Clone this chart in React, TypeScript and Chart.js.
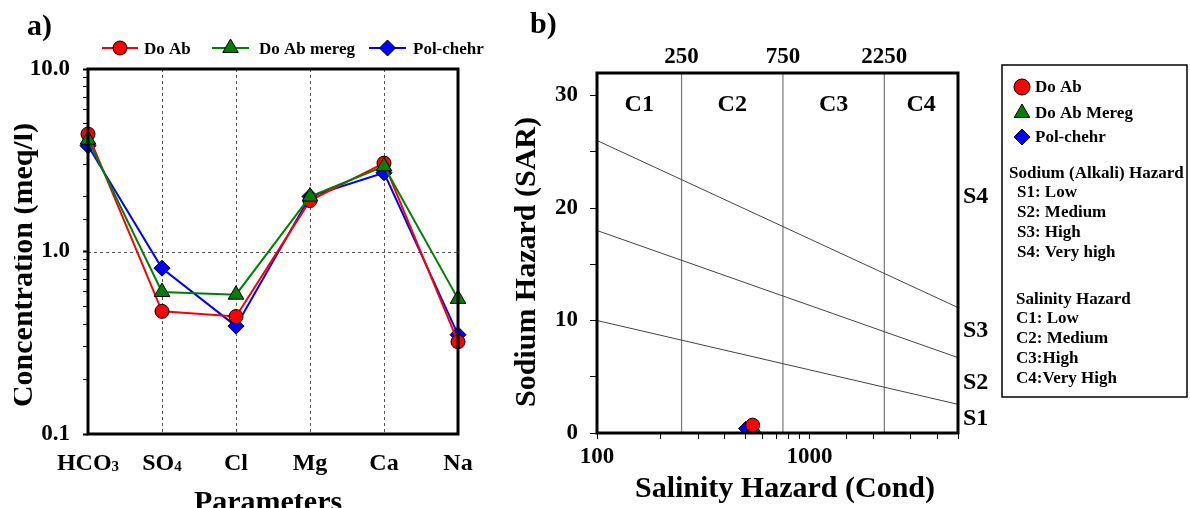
import React, { useEffect, useRef } from 'react';
import { Chart, registerables } from 'chart.js';

Chart.register(...registerables);

// ---------- Panel a) data ----------
const categories = ['HCO3', 'SO4', 'Cl', 'Mg', 'Ca', 'Na'];
const doAb = [4.4, 0.47, 0.44, 1.9, 3.05, 0.32];
const doAbMereg = [4.1, 0.6, 0.58, 2.0, 2.93, 0.55];
const polChehr = [3.8, 0.81, 0.39, 2.0, 2.7, 0.35];
const concMin = 0.1;
const concMax = 10;

// ---------- Panel b) data ----------
const ecMin = 100;
const ecMax = 5000;
const sarMin = 0;
const sarMax = 32;
const salinityBounds = [250, 750, 2250];
const classLabels = ['C1', 'C2', 'C3', 'C4'];
const classLabelSAR = 29.2;
const s1s2Line = [{ x: 100, y: 10 }, { x: 5000, y: 2.55 }];
const s2s3Line = [{ x: 100, y: 18 }, { x: 5000, y: 6.7 }];
const s3s4Line = [{ x: 100, y: 26 }, { x: 5000, y: 11.15 }];
const sodiumLabels = ['S4', 'S3', 'S2', 'S1'];
const sodiumLabelSAR = [21, 9.1, 4.5, 1.3];
const sampleNames = ['Do Ab', 'Do Ab Mereg', 'Pol-chehr'];
const sampleEC = [540, 550, 500];
const sampleSAR = [0.7, 0.3, 0.4];

const FONT = "'Liberation Serif', 'Times New Roman', serif";
const RED = '#ff0000';
const GREEN = '#008000';
const BLUE = '#0000ff';

type Style = 'circle' | 'triangle' | 'rectRot';

function drawMarker(ctx: CanvasRenderingContext2D, style: Style, x: number, y: number, r: number, fill: string) {
  ctx.save();
  ctx.beginPath();
  if (style === 'circle') {
    ctx.arc(x, y, r, 0, Math.PI * 2);
  } else if (style === 'triangle') {
    for (let k = 0; k < 3; k++) {
      const a = (k * 2 * Math.PI) / 3;
      const px = x + Math.sin(a) * r;
      const py = y - Math.cos(a) * r;
      if (k === 0) ctx.moveTo(px, py);
      else ctx.lineTo(px, py);
    }
  } else {
    ctx.moveTo(x - r, y);
    ctx.lineTo(x, y - r);
    ctx.lineTo(x + r, y);
    ctx.lineTo(x, y + r);
  }
  ctx.closePath();
  ctx.fillStyle = fill;
  ctx.fill();
  ctx.lineWidth = 1;
  ctx.strokeStyle = '#000';
  ctx.stroke();
  ctx.restore();
}

function isDecade(v: number) {
  const l = Math.log10(v);
  return Math.abs(l - Math.round(l)) < 1e-9;
}

function drawFrame(ctx: CanvasRenderingContext2D, ca: any) {
  ctx.save();
  ctx.strokeStyle = '#000';
  ctx.lineWidth = 3;
  ctx.strokeRect(ca.left, ca.top, ca.right - ca.left, ca.bottom - ca.top);
  ctx.restore();
}

const pluginA = {
  id: 'decorA',
  beforeDatasetsDraw(chart: any) {
    const { ctx, chartArea: ca, scales } = chart;
    const x = scales.x;
    const y = scales.y;
    ctx.save();
    ctx.strokeStyle = '#555';
    ctx.lineWidth = 1;
    ctx.setLineDash([3, 3]);
    for (let i = 1; i < categories.length - 1; i++) {
      const px = Math.round(x.getPixelForValue(i)) + 0.5;
      ctx.beginPath();
      ctx.moveTo(px, ca.top);
      ctx.lineTo(px, ca.bottom);
      ctx.stroke();
    }
    const py = Math.round(y.getPixelForValue(1)) + 0.5;
    ctx.beginPath();
    ctx.moveTo(ca.left, py);
    ctx.lineTo(ca.right, py);
    ctx.stroke();
    ctx.restore();
  },
  afterDraw(chart: any) {
    const { ctx, chartArea: ca, scales } = chart;
    const x = scales.x;
    drawFrame(ctx, ca);
    ctx.save();
    ctx.fillStyle = '#000';
    // category labels with subscripts
    categories.forEach((c, i) => {
      const m = c.match(/^([A-Za-z]+)(\d*)$/);
      const main = m ? m[1] : c;
      const sub = m ? m[2] : '';
      ctx.font = `bold 24px ${FONT}`;
      const wMain = ctx.measureText(main).width;
      ctx.font = `bold 15px ${FONT}`;
      const wSub = sub ? ctx.measureText(sub).width : 0;
      const cx = x.getPixelForValue(i);
      const left = cx - (wMain + wSub) / 2;
      ctx.textAlign = 'left';
      ctx.textBaseline = 'alphabetic';
      ctx.font = `bold 24px ${FONT}`;
      ctx.fillText(main, left, 470);
      if (sub) {
        ctx.font = `bold 15px ${FONT}`;
        ctx.fillText(sub, left + wMain, 471);
      }
    });
    // titles
    ctx.font = `bold 30px ${FONT}`;
    ctx.textAlign = 'center';
    ctx.textBaseline = 'alphabetic';
    ctx.fillText('Parameters', 268, 511);
    ctx.save();
    ctx.beginPath();
    ctx.rect(14, 0, 100, 508);
    ctx.clip();
    ctx.translate(32, 265);
    ctx.rotate(-Math.PI / 2);
    ctx.fillText('Concentration (meq/l)', 0, 0);
    ctx.restore();
    ctx.textAlign = 'left';
    ctx.font = `bold 30px ${FONT}`;
    ctx.fillText('a)', 27, 35);
    // legend
    const items: [string, string, Style, number, number, number, number][] = [
      ['Do Ab', RED, 'circle', 102, 138, 7, 144],
      ['Do Ab mereg', GREEN, 'triangle', 212, 249, 9, 259],
      ['Pol-chehr', BLUE, 'rectRot', 369, 406, 8, 413],
    ];
    const ly = 48;
    items.forEach(([label, color, style, x1, x2, r, tx]) => {
      ctx.strokeStyle = color;
      ctx.lineWidth = 2;
      ctx.beginPath();
      ctx.moveTo(x1, ly);
      ctx.lineTo(x2, ly);
      ctx.stroke();
      drawMarker(ctx, style, (x1 + x2) / 2, ly, r, color);
      ctx.fillStyle = '#000';
      ctx.font = `bold 17px ${FONT}`;
      ctx.textBaseline = 'alphabetic';
      ctx.fillText(label, tx, 54);
    });
    ctx.restore();
  },
};

const pluginB = {
  id: 'decorB',
  afterDraw(chart: any) {
    const { ctx, chartArea: ca, scales } = chart;
    const x = scales.x;
    const y = scales.y;
    drawFrame(ctx, ca);
    ctx.save();
    ctx.fillStyle = '#000';
    // class labels
    const edges = [ecMin, ...salinityBounds, ecMax];
    ctx.font = `bold 24px ${FONT}`;
    ctx.textAlign = 'center';
    ctx.textBaseline = 'middle';
    classLabels.forEach((l, i) => {
      const mid = Math.sqrt(edges[i] * edges[i + 1]);
      ctx.fillText(l, x.getPixelForValue(mid), y.getPixelForValue(classLabelSAR));
    });
    // sodium labels
    ctx.textAlign = 'left';
    sodiumLabels.forEach((l, i) => {
      ctx.fillText(l, ca.right + 5, y.getPixelForValue(sodiumLabelSAR[i]));
    });
    // titles
    ctx.font = `bold 30px ${FONT}`;
    ctx.textAlign = 'center';
    ctx.textBaseline = 'alphabetic';
    ctx.fillText('Salinity Hazard (Cond)', 285, 497);
    ctx.save();
    ctx.translate(35, 262);
    ctx.rotate(-Math.PI / 2);
    ctx.fillText('Sodium Hazard (SAR)', 0, 0);
    ctx.restore();
    ctx.textAlign = 'left';
    ctx.fillText('b)', 30, 33);
    // legend box
    const bx = 502;
    const by = 65;
    const bw = 185;
    const bh = 332;
    ctx.strokeStyle = '#000';
    ctx.lineWidth = 1.5;
    ctx.strokeRect(bx, by, bw, bh);
    const markerStyles: Style[] = ['circle', 'triangle', 'rectRot'];
    const markerColors = [RED, GREEN, BLUE];
    const rows = [87, 113, 137];
    ctx.font = `bold 17px ${FONT}`;
    ctx.textBaseline = 'middle';
    sampleNames.forEach((n, i) => {
      drawMarker(ctx, markerStyles[i], 522, rows[i], i === 1 ? 9 : 8, markerColors[i]);
      ctx.fillStyle = '#000';
      ctx.fillText(n, 535, rows[i] + 1);
    });
    const textRows: [string, number, number][] = [
      ['Sodium (Alkali) Hazard', 509, 174],
      ['S1: Low', 517, 193],
      ['S2: Medium', 517, 213],
      ['S3: High', 517, 233],
      ['S4: Very high', 517, 253],
      ['Salinity Hazard', 516, 300],
      ['C1: Low', 516, 319],
      ['C2: Medium', 516, 339],
      ['C3:High', 516, 359],
      ['C4:Very High', 516, 379],
    ];
    textRows.forEach(([t, tx, ty]) => ctx.fillText(t, tx, ty));
    ctx.restore();
  },
};

export default function App() {
  const refA = useRef<HTMLCanvasElement>(null);
  const refB = useRef<HTMLCanvasElement>(null);

  useEffect(() => {
    const tickFont = { family: FONT, size: 23, weight: 'bold' as const };
    const chartA = new Chart(refA.current as HTMLCanvasElement, {
      type: 'line',
      data: {
        labels: categories,
        datasets: [
          {
            label: 'Do Ab',
            data: doAb,
            borderColor: RED,
            backgroundColor: RED,
            borderWidth: 2,
            pointStyle: 'circle',
            pointRadius: 7,
            pointBorderColor: '#000',
            pointBorderWidth: 1,
            order: 1,
          },
          {
            label: 'Do Ab mereg',
            data: doAbMereg,
            borderColor: GREEN,
            backgroundColor: GREEN,
            borderWidth: 2,
            pointStyle: 'triangle',
            pointRadius: 9,
            pointBorderColor: '#000',
            pointBorderWidth: 1,
            order: 0,
          },
          {
            label: 'Pol-chehr',
            data: polChehr,
            borderColor: BLUE,
            backgroundColor: BLUE,
            borderWidth: 2,
            pointStyle: 'rectRot',
            pointRadius: 8,
            pointBorderColor: '#000',
            pointBorderWidth: 1,
            order: 2,
          },
        ],
      },
      options: {
        responsive: false,
        animation: false,
        devicePixelRatio: 1,
        layout: { padding: { top: 69, right: 42, left: 0, bottom: 0 } },
        plugins: { legend: { display: false }, tooltip: { enabled: false } },
        scales: {
          x: {
            type: 'category',
            afterFit: (s: any) => { s.height = 74; },
            grid: { display: false, drawTicks: false },
            border: { display: false },
            ticks: { display: false },
          },
          y: {
            type: 'logarithmic',
            min: concMin,
            max: concMax,
            afterFit: (s: any) => { s.width = 88; },
            border: { display: false },
            grid: {
              drawOnChartArea: false,
              drawTicks: true,
              tickLength: 5,
              tickColor: '#000',
              tickWidth: (c: any) => (c.tick && isDecade(c.tick.value) ? 2 : 1),
            },
            ticks: {
              autoSkip: false,
              color: '#000',
              font: tickFont,
              padding: 13,
              callback: (v: any) => {
                const n = Number(v);
                if (!isDecade(n)) return '';
                return n < 1 ? String(n) : n.toFixed(1);
              },
            },
          },
        },
      },
      plugins: [pluginA],
    } as any);

    const lineDs = (data: any[], color: string, width: number) => ({
      type: 'line',
      data,
      borderColor: color,
      borderWidth: width,
      pointRadius: 0,
      showLine: true,
      fill: false,
      order: 5,
    });

    const markerStyles = ['circle', 'triangle', 'rectRot'];
    const markerColors = [RED, GREEN, BLUE];
    const markerRadii = [7, 8, 7];
    const markerOrder = [0, 1, 2];

    const chartB = new Chart(refB.current as HTMLCanvasElement, {
      type: 'scatter',
      data: {
        datasets: [
          lineDs(s1s2Line, '#444', 1),
          lineDs(s2s3Line, '#444', 1),
          lineDs(s3s4Line, '#444', 1),
          ...salinityBounds.map((b) =>
            lineDs([{ x: b, y: sarMin }, { x: b, y: sarMax }], '#777', 1.2)
          ),
          ...sampleNames.map((n, i) => ({
            label: n,
            data: [{ x: sampleEC[i], y: sampleSAR[i] }],
            pointStyle: markerStyles[i],
            pointRadius: markerRadii[i],
            backgroundColor: markerColors[i],
            borderColor: '#000',
            borderWidth: 1,
            order: markerOrder[i],
          })),
        ],
      },
      options: {
        responsive: false,
        animation: false,
        devicePixelRatio: 1,
        layout: { padding: { top: 0, right: 232, left: 0, bottom: 0 } },
        plugins: { legend: { display: false }, tooltip: { enabled: false } },
        scales: {
          x: {
            type: 'logarithmic',
            position: 'bottom',
            min: ecMin,
            max: ecMax,
            afterFit: (s: any) => { s.height = 75; },
            border: { display: false },
            grid: { drawOnChartArea: false, drawTicks: true, tickLength: 6, tickColor: '#000' },
            ticks: {
              autoSkip: false,
              maxRotation: 0,
              color: '#000',
              font: tickFont,
              padding: 4,
              callback: (v: any) => {
                const n = Number(v);
                return Math.abs(n - 100) < 1e-6 || Math.abs(n - 1000) < 1e-6 ? String(Math.round(n)) : '';
              },
            },
          },
          x2: {
            type: 'logarithmic',
            position: 'top',
            min: ecMin,
            max: ecMax,
            afterBuildTicks: (s: any) => { s.ticks = salinityBounds.map((value) => ({ value })); },
            afterFit: (s: any) => { s.height = 73; },
            border: { display: false },
            grid: { display: false, drawTicks: false, tickLength: 0 },
            ticks: {
              autoSkip: false,
              maxRotation: 0,
              color: '#000',
              font: tickFont,
              padding: 2,
              callback: (v: any) => String(Math.round(Number(v))),
            },
          },
          y: {
            type: 'linear',
            min: sarMin,
            max: sarMax,
            afterFit: (s: any) => { s.width = 97; },
            border: { display: false },
            grid: { drawOnChartArea: false, drawTicks: true, tickLength: 7, tickColor: '#000' },
            ticks: {
              stepSize: 5,
              includeBounds: false,
              autoSkip: false,
              color: '#000',
              font: tickFont,
              padding: 12,
              callback: (v: any) => (Number(v) % 10 === 0 ? String(v) : ''),
            },
          },
        },
      },
      plugins: [pluginB],
    } as any);

    return () => {
      chartA.destroy();
      chartB.destroy();
    };
  }, []);

  return (
    <div style={{ position: 'fixed', left: 0, top: 0, width: 1190, height: 508, background: '#fff', overflow: 'hidden' }}>
      <canvas ref={refA} width={500} height={508} style={{ position: 'absolute', left: 0, top: 0 }} />
      <canvas ref={refB} width={690} height={508} style={{ position: 'absolute', left: 500, top: 0 }} />
    </div>
  );
}
